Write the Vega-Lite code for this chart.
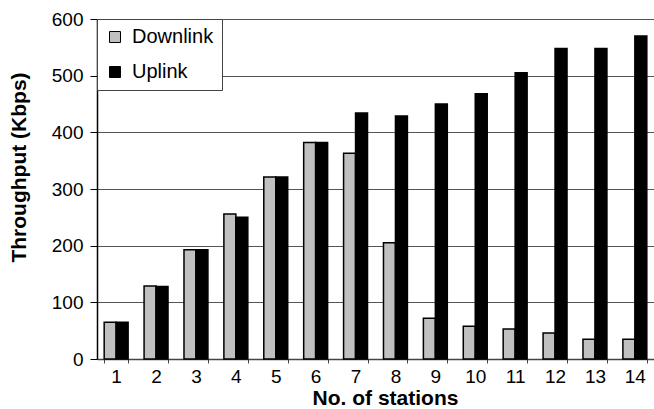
{
  "$schema": "https://vega.github.io/schema/vega-lite/v6.json",
  "width": 557,
  "height": 340,
  "autosize": {"type": "none"},
  "padding": {"left": 97, "top": 19, "right": 0, "bottom": 50},
  "background": "white",
  "config": {
    "view": {"stroke": null},
    "font": "Liberation Sans"
  },
  "data": {
    "values": [
      {"station": 1, "link": "Downlink", "throughput": 65},
      {"station": 1, "link": "Uplink", "throughput": 65},
      {"station": 2, "link": "Downlink", "throughput": 129},
      {"station": 2, "link": "Uplink", "throughput": 128},
      {"station": 3, "link": "Downlink", "throughput": 193},
      {"station": 3, "link": "Uplink", "throughput": 193},
      {"station": 4, "link": "Downlink", "throughput": 256},
      {"station": 4, "link": "Uplink", "throughput": 250},
      {"station": 5, "link": "Downlink", "throughput": 321},
      {"station": 5, "link": "Uplink", "throughput": 321},
      {"station": 6, "link": "Downlink", "throughput": 382},
      {"station": 6, "link": "Uplink", "throughput": 382},
      {"station": 7, "link": "Downlink", "throughput": 363},
      {"station": 7, "link": "Uplink", "throughput": 434},
      {"station": 8, "link": "Downlink", "throughput": 205},
      {"station": 8, "link": "Uplink", "throughput": 429},
      {"station": 9, "link": "Downlink", "throughput": 72},
      {"station": 9, "link": "Uplink", "throughput": 450},
      {"station": 10, "link": "Downlink", "throughput": 58},
      {"station": 10, "link": "Uplink", "throughput": 468},
      {"station": 11, "link": "Downlink", "throughput": 53},
      {"station": 11, "link": "Uplink", "throughput": 505},
      {"station": 12, "link": "Downlink", "throughput": 46},
      {"station": 12, "link": "Uplink", "throughput": 548},
      {"station": 13, "link": "Downlink", "throughput": 35},
      {"station": 13, "link": "Uplink", "throughput": 548},
      {"station": 14, "link": "Downlink", "throughput": 35},
      {"station": 14, "link": "Uplink", "throughput": 570}
    ]
  },
  "mark": {"type": "bar", "stroke": "black", "strokeWidth": 1.5},
  "encoding": {
    "x": {
      "field": "station",
      "type": "ordinal",
      "scale": {"paddingInner": 0.4, "paddingOuter": 0.18},
      "axis": {
        "title": "No. of stations",
        "titleFontSize": 21,
        "titleFontWeight": "bold",
        "titleColor": "black",
        "titleX": 288,
        "titleY": 39,
        "titleBaseline": "middle",
        "labelAngle": 0,
        "labelFontSize": 19,
        "labelColor": "black",
        "labelPadding": 4,
        "tickBand": "extent",
        "tickSize": 4,
        "tickColor": "#444",
        "domainColor": "#444",
        "domainWidth": 1.5
      }
    },
    "xOffset": {"field": "link", "type": "nominal"},
    "y": {
      "field": "throughput",
      "type": "quantitative",
      "scale": {"domain": [0, 600]},
      "axis": {
        "title": "Throughput (Kbps)",
        "titleFontSize": 21,
        "titleFontWeight": "bold",
        "titleColor": "black",
        "titleX": -78,
        "titleY": 148,
        "titleAngle": -90,
        "titleAlign": "center",
        "titleBaseline": "middle",
        "values": [0, 100, 200, 300, 400, 500, 600],
        "labelFontSize": 19,
        "labelColor": "black",
        "labelPadding": 7,
        "tickSize": 7,
        "tickColor": "black",
        "domainColor": "black",
        "domainWidth": 1.5,
        "grid": true,
        "gridColor": "#555",
        "gridWidth": 1.2
      }
    },
    "fill": {
      "field": "link",
      "type": "nominal",
      "scale": {"domain": ["Downlink", "Uplink"], "range": ["#c0c0c0", "black"]},
      "legend": {
        "title": null,
        "orient": "none",
        "legendX": 0,
        "legendY": 0,
        "padding": 8,
        "fillColor": "white",
        "strokeColor": "#444",
        "symbolType": "square",
        "symbolSize": 121,
        "symbolStrokeColor": "black",
        "symbolStrokeWidth": 1,
        "labelFontSize": 20,
        "labelColor": "black",
        "labelOffset": 7,
        "rowPadding": 15
      }
    }
  }
}
